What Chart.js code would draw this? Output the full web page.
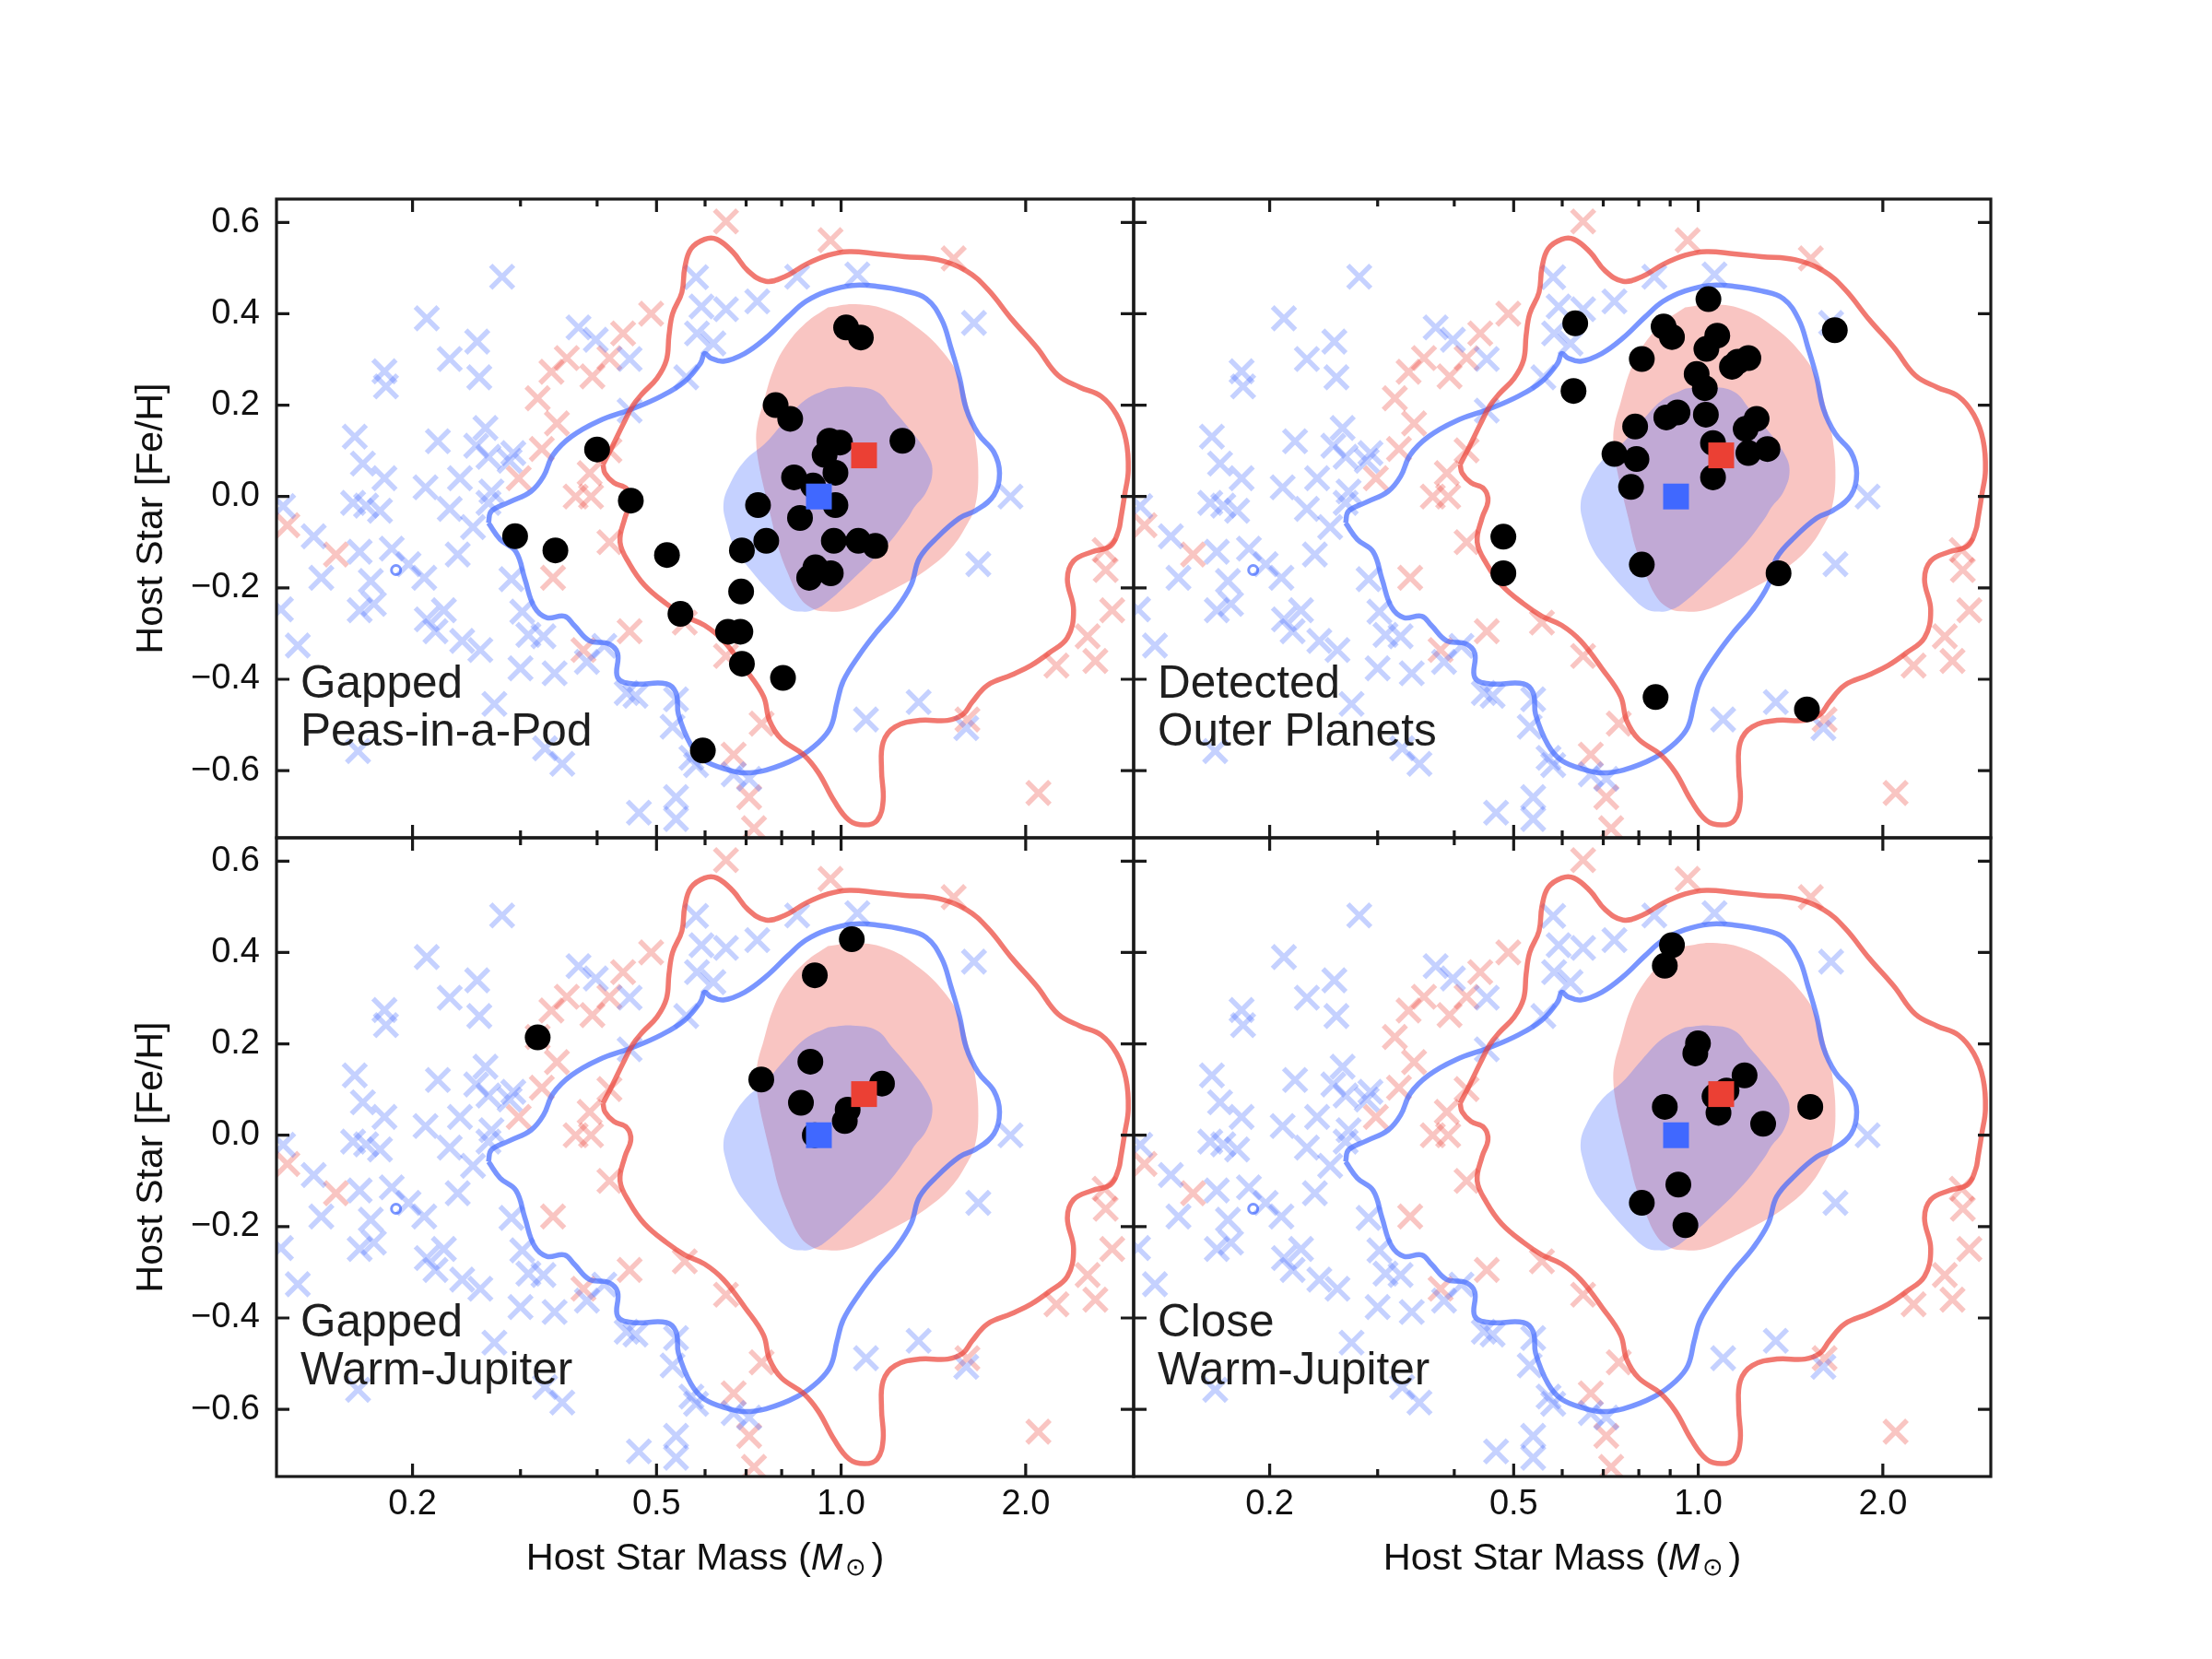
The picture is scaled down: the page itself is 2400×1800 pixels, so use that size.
<!DOCTYPE html>
<html>
<head>
<meta charset="utf-8">
<script src="https://cdn.jsdelivr.net/npm/chart.js@4.4.1/dist/chart.umd.min.js"></script>
<style>
html,body{margin:0;padding:0;background:#fff;}
#wrap{position:relative;width:2400px;height:1800px;background:#fff;overflow:hidden;}
canvas{position:absolute;}
.xt{position:absolute;width:930px;text-align:center;font-family:'Liberation Sans',Arial,sans-serif;font-size:41.5px;line-height:46px;color:#111;white-space:nowrap;}
.xt .sun{font-size:27px;position:relative;top:6px;margin-left:3px;margin-right:5px;}
</style>
</head>
<body>
<div id="wrap">
<canvas id="c0" width="1280" height="959" style="left:0px;top:0px"></canvas>
<canvas id="c1" width="1030" height="959" style="left:1180px;top:0px"></canvas>
<canvas id="c2" width="1280" height="941" style="left:0px;top:859px"></canvas>
<canvas id="c3" width="1030" height="941" style="left:1180px;top:859px"></canvas>
<div class="xt" style="left:300px;top:1666px">Host Star Mass (<i>M</i><span class="sun">⊙</span>)</div>
<div class="xt" style="left:1230px;top:1666px">Host Star Mass (<i>M</i><span class="sun">⊙</span>)</div>
</div>
<script>
// ---------------- axes ----------------
const xMin = 0.12, xMax = 3.0;
const yMin = -0.747, yMax = 0.651;
const xTickVals = [0.2, 0.5, 1.0, 2.0];
const xTickLabels = ['0.2', '0.5', '1.0', '2.0'];
const xMinorTicks = [0.3, 0.4, 0.6, 0.7, 0.8, 0.9];
const yTickVals = [-0.6, -0.4, -0.2, 0.0, 0.2, 0.4, 0.6];
const yTickLabels = ['\u22120.6', '\u22120.4', '\u22120.2', '0.0', '0.2', '0.4', '0.6'];
const yTitle = 'Host Star [Fe/H]';

// ---------------- background population (crosses) ----------------
const bgBlueMass = [0.280,0.211,0.255,0.230,0.257,0.180,0.181,0.373,0.398,0.452,0.559,0.452,0.580,0.592,0.649,0.730,0.848,1.063,0.582,0.619,1.647,1.889,
  0.263,0.220,0.161,0.254,0.166,0.180,0.210,0.239,0.266,0.292,0.288,0.160,0.168,0.177,0.230,0.269,0.266,0.251,0.123,0.138,0.164,0.185,0.142,0.171,0.197,0.209,0.237,0.290,
  0.122,0.164,0.173,0.211,0.225,0.218,0.241,0.258,0.130,0.302,0.309,0.327,0.300,0.341,0.385,0.411,0.447,0.462,0.272,0.538,0.531,0.163,0.329,0.351,0.570,0.580,0.668,0.708,
  0.538,0.468,0.538,1.098,1.338,1.600,1.674];
const bgBlueFeH = [0.481,0.390,0.339,0.301,0.261,0.274,0.241,0.370,0.343,0.301,0.261,0.188,0.480,0.416,0.410,0.427,0.481,0.486,0.357,0.335,0.380,0.000,
  0.150,0.121,0.131,0.111,0.072,0.040,0.020,0.040,0.087,0.095,0.078,-0.014,-0.020,-0.031,-0.027,0.011,-0.014,-0.067,-0.021,-0.087,-0.121,-0.114,-0.178,-0.185,-0.148,-0.178,-0.127,-0.181,
  -0.247,-0.249,-0.235,-0.269,-0.249,-0.295,-0.316,-0.336,-0.326,-0.252,-0.303,-0.306,-0.376,-0.387,-0.362,-0.327,-0.430,-0.436,-0.454,-0.444,-0.504,-0.557,-0.551,-0.585,-0.572,-0.588,-0.608,-0.618,
  -0.658,-0.692,-0.706,-0.488,-0.450,-0.507,-0.148];
const bgRedMass = [0.490,0.441,0.419,0.357,0.337,0.393,0.320,0.344,0.325,0.419,0.298,0.389,0.369,0.391,0.125,0.150,0.339,0.419,0.452,0.380,0.556,
  0.649,0.961,1.526,0.649,0.742,0.668,0.708,0.721,1.607,2.098,2.245,2.598,2.524,2.768,2.701,2.690];
const bgRedFeH = [0.400,0.357,0.303,0.303,0.273,0.263,0.215,0.160,0.104,0.101,0.040,0.051,0.000,0.000,-0.063,-0.127,-0.178,-0.100,-0.295,-0.336,-0.276,
  0.602,0.561,0.521,-0.349,-0.497,-0.565,-0.658,-0.726,-0.488,-0.649,-0.370,-0.360,-0.306,-0.249,-0.161,-0.117];

// ---------------- density contours ----------------
const redOuterMass = [0.409,0.424,0.441,0.457,0.474,0.501,0.519,0.524,0.531,0.550,0.556,0.569,0.599,0.627,0.666,0.705,0.754,0.809,0.876,0.952,
  1.031,1.145,1.268,1.441,1.600,1.733,1.901,2.085,2.259,2.452,2.657,2.814,2.914,2.940,2.900,2.860,2.835,2.751,2.566,2.394,
  2.339,2.394,2.339,2.181,2.039,1.901,1.733,1.636,1.580,1.492,1.343,1.225,1.171,1.164,1.171,1.145,1.092,1.031,0.974,0.919,
  0.868,0.799,0.764,0.747,0.696,0.643,0.599,0.556,0.519,0.478,0.452,0.436,0.444,0.454,0.447,0.426,0.412];
const redOuterFeH = [0.070,0.111,0.158,0.198,0.225,0.259,0.299,0.353,0.400,0.447,0.501,0.542,0.563,0.563,0.535,0.494,0.471,0.481,0.508,0.528,
  0.536,0.531,0.525,0.518,0.494,0.454,0.387,0.326,0.265,0.239,0.219,0.179,0.124,0.057,0.003,-0.047,-0.074,-0.108,-0.121,-0.141,
  -0.181,-0.249,-0.309,-0.343,-0.370,-0.390,-0.413,-0.450,-0.477,-0.490,-0.490,-0.504,-0.538,-0.599,-0.666,-0.709,-0.719,-0.709,-0.666,-0.605,
  -0.565,-0.531,-0.490,-0.437,-0.376,-0.316,-0.282,-0.262,-0.235,-0.194,-0.148,-0.100,-0.047,-0.010,0.017,0.030,0.051];
const blueOuterMass = [0.266,0.269,0.288,0.312,0.327,0.339,0.363,0.402,0.457,0.508,0.556,0.590,0.599,0.613,0.643,0.696,0.754,0.819,0.876,0.952,
  1.044,1.145,1.268,1.377,1.459,1.510,1.561,1.600,1.674,1.775,1.813,1.775,1.657,1.561,1.441,1.343,1.300,1.225,1.145,1.068,
  1.008,0.985,0.962,0.919,0.848,0.754,0.696,0.657,0.599,0.569,0.543,0.538,0.519,0.457,0.432,0.432,0.417,0.389,0.367,0.354,
  0.331,0.316,0.305,0.295,0.278];
const blueOuterFeH = [-0.058,-0.032,-0.012,0.011,0.044,0.091,0.131,0.165,0.192,0.219,0.252,0.292,0.313,0.303,0.296,0.313,0.347,0.393,0.427,0.450,
  0.462,0.460,0.450,0.433,0.387,0.326,0.259,0.192,0.137,0.097,0.051,0.003,-0.031,-0.047,-0.087,-0.134,-0.194,-0.249,-0.295,-0.349,
  -0.404,-0.450,-0.504,-0.538,-0.572,-0.599,-0.605,-0.599,-0.578,-0.544,-0.477,-0.430,-0.410,-0.410,-0.396,-0.343,-0.322,-0.316,-0.282,-0.262,
  -0.265,-0.242,-0.181,-0.121,-0.094];
const redInnerMass = [0.952,1.055,1.198,1.343,1.473,1.561,1.616,1.657,1.674,1.653,1.610,1.510,1.377,1.255,1.117,1.020,0.934,0.898,0.857,0.819,
  0.791,0.769,0.750,0.733,0.727,0.730,0.747,0.773,0.809,0.876];
const redInnerFeH = [0.414,0.421,0.407,0.366,0.313,0.259,0.192,0.124,0.044,-0.023,-0.058,-0.114,-0.161,-0.194,-0.228,-0.249,-0.251,-0.245,-0.222,-0.168,
  -0.114,-0.047,0.013,0.076,0.120,0.156,0.205,0.272,0.326,0.380];
const blueInnerMass = [0.952,1.044,1.145,1.212,1.285,1.377,1.409,1.377,1.316,1.285,1.185,1.044,0.940,0.897,0.860,0.819,0.773,0.712,0.672,0.650,
  0.643,0.657,0.696,0.754,0.809,0.876];
const blueInnerFeH = [0.236,0.240,0.229,0.192,0.152,0.097,0.057,0.010,-0.024,-0.047,-0.108,-0.181,-0.235,-0.249,-0.252,-0.245,-0.215,-0.161,-0.114,-0.058,
  -0.016,0.024,0.078,0.118,0.165,0.212];
const blueIslandMass = [0.188];
const blueIslandFeH = [-0.161];

// ---------------- medians (squares): [blue, red] ----------------
const medianMass = [0.92, 1.09];
const medianFeH = [0.00, 0.09];

// ---------------- samples (black dots) ----------------
const panelTitles = [['Gapped', 'Peas-in-a-Pod'], ['Detected', 'Outer Planets'], ['Gapped', 'Warm-Jupiter'], ['Close', 'Warm-Jupiter']];
const peasMass = [0.400,0.454,1.019,1.077,0.782,0.826,0.957,0.996,1.259,0.940,0.979,0.838,0.900,0.732,0.979,0.857,0.689,0.755,0.973,1.067,
  1.137,0.908,0.887,0.962,0.687,0.654,0.685,0.689,0.804,0.595,0.294,0.342,0.520,0.547];
const peasFeH = [0.103,-0.009,0.370,0.348,0.200,0.170,0.122,0.118,0.122,0.091,0.052,0.042,0.024,-0.019,-0.019,-0.047,-0.118,-0.097,-0.097,-0.097,
  -0.108,-0.155,-0.178,-0.168,-0.208,-0.296,-0.296,-0.366,-0.397,-0.556,-0.087,-0.118,-0.128,-0.257];
const outerMass = [1.039,0.630,0.878,0.906,1.074,1.031,1.207,1.160,1.135,0.809,0.994,1.025,0.626,0.887,0.925,1.029,0.789,1.245,1.195,0.730,
  0.793,1.057,1.207,1.297,0.777,1.057,0.481,0.481,0.809,1.352,0.852,1.504,1.670];
const outerFeH = [0.432,0.379,0.372,0.349,0.352,0.323,0.303,0.295,0.284,0.301,0.268,0.237,0.231,0.173,0.184,0.179,0.153,0.170,0.148,0.093,
  0.082,0.117,0.095,0.104,0.021,0.042,-0.088,-0.168,-0.149,-0.168,-0.439,-0.466,0.364];
const gapWJMass = [1.041,0.906,0.320,0.891,0.741,1.166,0.860,1.025,1.014,0.906];
const gapWJFeH = [0.429,0.350,0.214,0.161,0.122,0.113,0.071,0.056,0.031,0.000];
const closeWJMass = [0.906,0.882,0.999,0.989,1.190,1.112,1.063,0.882,1.079,1.276,1.523,0.928,0.809,0.953];
const closeWJFeH = [0.416,0.371,0.201,0.179,0.131,0.098,0.085,0.062,0.049,0.025,0.062,-0.108,-0.148,-0.197];

// ---------------- styling ----------------
const BLUE = [64, 104, 255], RED = [235, 64, 52];
const rgba = (c, a) => `rgba(${c[0]},${c[1]},${c[2]},${a})`;
const FONT = "'Liberation Sans', Arial, sans-serif";
Chart.defaults.font.family = FONT;

const pts = (xs, ys) => xs.map((x, i) => ({x: x, y: ys[i]}));
const closed = (xs, ys) => { const p = pts(xs, ys); p.push({x: p[0].x, y: p[0].y}); return p; };
const labelFor = (v, vals, labels) => { for (let i = 0; i < vals.length; i++) if (Math.abs(vals[i] - v) < 1e-9) return labels[i]; return ''; };

const framePlugin = {
  id: 'frame',
  afterDatasetsDraw(chart, args, opts) {
    const {ctx, chartArea: a} = chart;
    const x = chart.scales.x, y = chart.scales.y;
    ctx.save();
    ctx.strokeStyle = '#1a1a1a';
    ctx.lineWidth = 3.2;
    ctx.lineCap = 'butt';
    ctx.beginPath();
    const major = 14, minor = 8;
    xTickVals.forEach(v => { const p = x.getPixelForValue(v);
      ctx.moveTo(p, a.bottom); ctx.lineTo(p, a.bottom - major);
      ctx.moveTo(p, a.top); ctx.lineTo(p, a.top + major); });
    xMinorTicks.forEach(v => { const p = x.getPixelForValue(v);
      ctx.moveTo(p, a.bottom); ctx.lineTo(p, a.bottom - minor);
      ctx.moveTo(p, a.top); ctx.lineTo(p, a.top + minor); });
    yTickVals.forEach(v => { const p = y.getPixelForValue(v);
      ctx.moveTo(a.left, p); ctx.lineTo(a.left + major, p);
      ctx.moveTo(a.right, p); ctx.lineTo(a.right - major, p); });
    ctx.stroke();
    ctx.strokeRect(a.left, a.top, a.right - a.left, a.bottom - a.top);
    ctx.fillStyle = '#1e1e1e';
    ctx.font = '49.5px ' + FONT;
    ctx.textAlign = 'left';
    ctx.textBaseline = 'alphabetic';
    (opts.lines || []).forEach((t, i) => ctx.fillText(t, a.left + 26, a.top + 541 + 52 * i));
    ctx.restore();
  }
};

const panels = [
  {id: 'c0', m: peasMass, f: peasFeH, left: true, bottom: false, pad: {left: 0, top: 216, right: 50, bottom: 50}},
  {id: 'c1', m: outerMass, f: outerFeH, left: false, bottom: false, pad: {left: 50, top: 216, right: 50, bottom: 50}},
  {id: 'c2', m: gapWJMass, f: gapWJFeH, left: true, bottom: true, pad: {left: 0, top: 50, right: 50, bottom: 0}},
  {id: 'c3', m: closeWJMass, f: closeWJFeH, left: false, bottom: true, pad: {left: 50, top: 50, right: 50, bottom: 0}}
];

panels.forEach((p, k) => {
  const common = {clip: 0};
  const datasets = [
    {...common, type: 'scatter', data: pts([medianMass[1]], [medianFeH[1]]), pointStyle: 'rect', pointRadius: 19.8, backgroundColor: rgba(RED, 1), borderWidth: 0, order: 0},
    {...common, type: 'scatter', data: pts([medianMass[0]], [medianFeH[0]]), pointStyle: 'rect', pointRadius: 19.8, backgroundColor: rgba(BLUE, 1), borderWidth: 0, order: 0},
    {...common, type: 'scatter', data: pts(p.m, p.f), pointStyle: 'circle', pointRadius: 14, backgroundColor: '#000', borderWidth: 0, order: 1},
    {...common, type: 'line', data: closed(redOuterMass, redOuterFeH), borderColor: rgba(RED, 0.7), borderWidth: 5.5, tension: 0.4, pointRadius: 0, fill: false, order: 2},
    {...common, type: 'line', data: closed(blueOuterMass, blueOuterFeH), borderColor: rgba(BLUE, 0.7), borderWidth: 5.5, tension: 0.4, pointRadius: 0, fill: false, order: 3},
    {...common, type: 'scatter', data: pts(blueIslandMass, blueIslandFeH), pointStyle: 'circle', pointRadius: 5, backgroundColor: 'rgba(0,0,0,0)', borderColor: rgba(BLUE, 0.7), borderWidth: 3, order: 3},
    {...common, type: 'line', data: closed(blueInnerMass, blueInnerFeH), borderColor: 'rgba(0,0,0,0)', borderWidth: 0, backgroundColor: rgba(BLUE, 0.3), fill: 'shape', tension: 0.4, pointRadius: 0, order: 4},
    {...common, type: 'line', data: closed(redInnerMass, redInnerFeH), borderColor: 'rgba(0,0,0,0)', borderWidth: 0, backgroundColor: rgba(RED, 0.3), fill: 'shape', tension: 0.4, pointRadius: 0, order: 5},
    {...common, type: 'scatter', data: pts(bgBlueMass, bgBlueFeH), pointStyle: 'crossRot', pointRadius: 17.5, borderWidth: 5.5, borderColor: rgba(BLUE, 0.3), backgroundColor: 'rgba(0,0,0,0)', order: 6},
    {...common, type: 'scatter', data: pts(bgRedMass, bgRedFeH), pointStyle: 'crossRot', pointRadius: 17.5, borderWidth: 5.5, borderColor: rgba(RED, 0.3), backgroundColor: 'rgba(0,0,0,0)', order: 7}
  ];
  new Chart(document.getElementById(p.id), {
    type: 'scatter',
    data: {datasets: datasets},
    plugins: [framePlugin],
    options: {
      responsive: false, animation: false, devicePixelRatio: 1, events: [],
      layout: {padding: p.pad},
      plugins: {legend: {display: false}, tooltip: {enabled: false}, frame: {lines: panelTitles[k]}},
      scales: {
        x: {
          type: 'logarithmic', min: xMin, max: xMax, bounds: 'data', display: p.bottom,
          afterBuildTicks: s => { s.ticks = xTickVals.map(v => ({value: v})); },
          afterFit: s => { if (p.bottom) s.height = 198; },
          ticks: {autoSkip: false, maxRotation: 0, minRotation: 0, padding: 8, color: '#111', font: {size: 38},
                  callback: v => labelFor(v, xTickVals, xTickLabels)},
          grid: {display: false, drawTicks: false},
          border: {display: false}
        },
        y: {
          type: 'linear', min: yMin, max: yMax, bounds: 'data', display: p.left,
          afterBuildTicks: s => { s.ticks = yTickVals.map(v => ({value: v})); },
          afterFit: s => { if (p.left) s.width = 300; },
          ticks: {autoSkip: false, padding: 18, color: '#111', font: {size: 38},
                  callback: v => labelFor(v, yTickVals, yTickLabels)},
          title: {display: true, text: yTitle, color: '#111', font: {size: 41}, padding: {top: 140, bottom: 0}},
          grid: {display: false, drawTicks: false},
          border: {display: false}
        }
      }
    }
  });
});
</script>
</body>
</html>
